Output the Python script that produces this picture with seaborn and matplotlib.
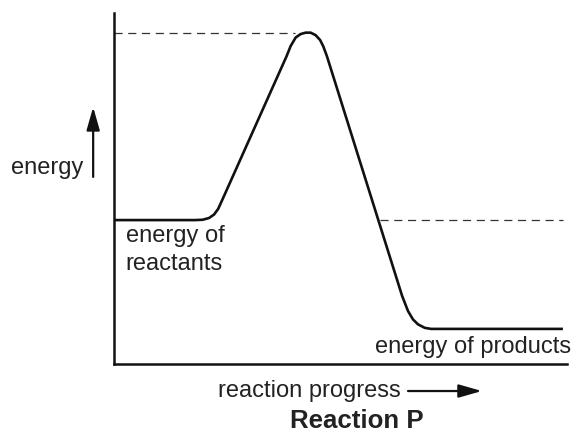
import matplotlib
matplotlib.use("Agg")
import matplotlib.pyplot as plt
import numpy as np
import pandas as pd
import seaborn as sns

# energy profile of reaction P (progress 0-100, energy 0-100)
progress = [0, 17.9, 19.6, 21.0, 22.1, 23.0, 23.6, 24.3,
            38.1, 39.0, 40.1, 41.2, 42.3, 43.4, 44.5, 45.5, 46.2, 47.0,
            63.6, 64.9, 66.0, 67.1, 68.6, 70.0, 72.6, 99.1]
energy = [41.0, 41.0, 41.1, 41.6, 42.6, 44.2, 45.9, 47.9,
          87.7, 90.6, 93.0, 94.0, 94.4, 94.4, 93.7, 92.3, 90.5, 87.7,
          19.4, 15.1, 12.7, 11.3, 10.3, 10.0, 10.0, 10.0]

peak_energy = 94.4
reactant_energy = 41.0
peak_guide_x = [0, 40.0]
reactant_guide_x = [58.7, 99.1]

sns.set_style("white")
plt.rcParams['font.family'] = ['Liberation Sans', 'DejaVu Sans']

fig = plt.figure(figsize=(5.74, 4.36), dpi=100)
ax = fig.add_axes([114/574, 72/436, 453/574, 351/436])

df = pd.DataFrame({"progress": progress, "energy": energy})
sns.lineplot(data=df, x="progress", y="energy", sort=False, estimator=None,
             color="#111111", linewidth=1.9, ax=ax,
             solid_joinstyle="round", solid_capstyle="butt")

# dashed guides
ax.plot(peak_guide_x, [peak_energy, peak_energy], color="#333333", lw=0.9, dashes=(6.5, 4.5))
ax.plot(reactant_guide_x, [reactant_energy, reactant_energy], color="#333333", lw=0.9, dashes=(6.5, 4.5))

ax.set_xlim(0, 100)
ax.set_ylim(0, 100)
ax.set_xticks([])
ax.set_yticks([])
ax.set_xlabel("")
ax.set_ylabel("")
sns.despine(ax=ax)
for s in ["left", "bottom"]:
    ax.spines[s].set_linewidth(1.8)
    ax.spines[s].set_color("#111111")

txt = dict(fontsize=17, color="#222222")
ax.text(-6.8, 54.1, "energy", ha="right", va="baseline", clip_on=False, **txt)
ax.text(2.6, 34.9, "energy of", ha="left", va="baseline", **txt)
ax.text(2.6, 26.8, "reactants", ha="left", va="baseline", **txt)
ax.text(57.6, 3.1, "energy of products", ha="left", va="baseline", **txt)
ax.text(23.0, -9.5, "reaction progress", ha="left", va="baseline", clip_on=False, **txt)
ax.text(53.5, -18.3, "Reaction P", ha="center", va="baseline", fontweight="bold",
        clip_on=False, fontsize=18.6, color="#222222")

arrow = dict(arrowstyle="-|>,head_length=1.4,head_width=0.4", mutation_scale=10,
             lw=1.6, color="#111111", shrinkA=0, shrinkB=0)
ax.annotate("", xy=(-4.6, 73.2), xytext=(-4.6, 53.3), arrowprops=arrow, annotation_clip=False)
ax.annotate("", xy=(81.2, -7.7), xytext=(64.9, -7.7), arrowprops=arrow, annotation_clip=False)

fig.savefig("out.png", dpi=100)
